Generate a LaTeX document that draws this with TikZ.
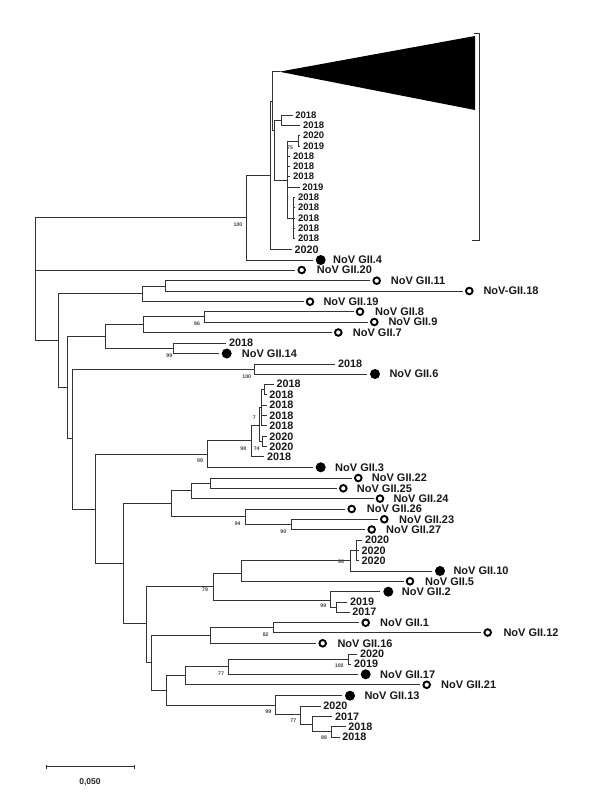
\documentclass[tikz,border=0pt]{standalone}
\usepackage{fontspec}
\setmainfont{Liberation Sans}
\newcommand\tkkids[4]{%
  \draw[brl] (#1 |- #2) -- (#1 |- #3);
  \foreach \k in {#4} {\draw[brl] (#1 |- \k) -- (\k);}%
}
\begin{document}
\begin{tikzpicture}[x=1pt,y=-1pt,
  brl/.style={draw=black!80, line width=0.9pt, line cap=rect},
  yr/.style={font=\bfseries\fontsize{10.8}{10.8}\selectfont, anchor=west, inner xsep=3pt, inner ysep=0pt, outer sep=0pt, text=black!90},
  yrs/.style={yr, font=\bfseries\fontsize{9.5}{9.5}\selectfont},
  lab/.style={font=\bfseries\fontsize{11}{11}\selectfont, anchor=west, inner sep=0pt, text=black!90},
  oc/.style={circle, draw=black, line width=1.9pt, minimum size=6.6pt, inner sep=0pt, outer sep=3.5pt},
  fc/.style={circle, fill=black, minimum size=10pt, inner sep=0pt, outer sep=3.5pt},
  bs/.style={font=\bfseries\fontsize{5.2}{5.2}\selectfont, inner sep=0pt, text=black!75},
]
\useasboundingbox (0,0) rectangle (595,800);

% ---------- internal node coordinates ----------
\coordinate (R) at (35,279);
\coordinate (A) at (246.7,217.7);
\coordinate (B) at (270,175);
\coordinate (C) at (272.3,101);
\coordinate (T) at (279.3,71.7);
\coordinate (T1) at (475,36);
\coordinate (T2) at (475,110);
\coordinate (D) at (274.5,130);
\coordinate (E) at (281.7,120);
\coordinate (F) at (287,180);
\coordinate (G) at (298.3,141);
\coordinate (H) at (293.3,218);
\coordinate (N1) at (58.3,340.7);
\coordinate (N2) at (142.7,293.3);
\coordinate (N3) at (165,286);
\coordinate (N4) at (67.7,387.3);
\coordinate (N5) at (105.7,336);
\coordinate (N7) at (143.3,324.3);
\coordinate (N9) at (204.3,316.7);
\coordinate (N8) at (173.3,348.3);
\coordinate (N6) at (72.7,438.3);
\coordinate (N10) at (254.3,369);
\coordinate (N11) at (95.7,509);
\coordinate (N12) at (207.3,454.3);
\coordinate (N14) at (251,440.8);
\coordinate (N15) at (259,425);
\coordinate (N16) at (261,407.5);
\coordinate (N18) at (264.3,389.3);
\coordinate (N17) at (262.7,441.3);
\coordinate (N13) at (123.3,563.3);
\coordinate (N19) at (171.7,503.3);
\coordinate (N21) at (191.7,490.8);
\coordinate (N23) at (210,483.3);
\coordinate (N22) at (245,516.7);
\coordinate (N25) at (291,524.4);
\coordinate (N20) at (146,623.3);
\coordinate (N26) at (213.3,586.7);
\coordinate (N28) at (241.7,573.3);
\coordinate (N31) at (350.7,560.5);
\coordinate (N32) at (356,550);
\coordinate (N29) at (330,600);
\coordinate (N30) at (336.7,607);
\coordinate (N27) at (151.7,662.5);
\coordinate (N33) at (210,635);
\coordinate (N35) at (273.3,627.7);
\coordinate (N34) at (166.7,690);
\coordinate (N36) at (185.7,675);
\coordinate (N38) at (228.3,666.8);
\coordinate (N39) at (348.3,659.2);
\coordinate (N37) at (275.7,705);
\coordinate (N40) at (300.7,714.3);
\coordinate (N41) at (312.7,724.2);
\coordinate (N42) at (331.7,731.7);

% ---------- collapsed clade and bracket ----------
\fill[black] (T) -- (T1) -- (T2) -- cycle;
\coordinate (K1) at (474,33);
\coordinate (K2) at (479.5,33);
\coordinate (K3) at (479.5,240);
\coordinate (K4) at (472,240);
\draw[brl, line cap=butt, line width=0.8pt] (K1) -- (K2) -- (K3) -- (K4);

% ---------- leaves: GII.4 clade ----------
\node[fc] (f4) at (320.7,260) {}; \node[lab] (l4) at (333,260) {NoV GII.4};
\node[yr] (y0) at (291.5,249.5) {2020};
\node[yrs] (s1) at (292.3,115) {2018};
\node[yrs] (s2) at (300,125) {2018};
\node[yrs] (s3) at (300,135.7) {2020};
\node[yrs] (s4) at (300,146) {2019};
\node[yrs] (s5) at (290,156) {2018};
\node[yrs] (s6) at (290,166.3) {2018};
\node[yrs] (s7) at (290,176.7) {2018};
\node[yrs] (s8) at (299.3,187.7) {2019};
\node[yrs] (s9) at (295,197.7) {2018};
\node[yrs] (s10) at (295,207.7) {2018};
\node[yrs] (s11) at (295,218) {2018};
\node[yrs] (s12) at (295,228.3) {2018};
\node[yrs] (s13) at (295,238.3) {2018};

% ---------- other leaves ----------
\node[oc] (c20) at (301.7,270) {}; \node[lab] (l20) at (316.7,270) {NoV GII.20};
\node[oc] (c11) at (376.7,280.7) {}; \node[lab] (l11) at (390.7,280.7) {NoV GII.11};
\node[oc] (c18) at (469.3,291) {}; \node[lab] (l18) at (483.3,291) {NoV-GII.18};
\node[oc] (c19) at (310,301.7) {}; \node[lab] (l19) at (323.3,301.7) {NoV GII.19};
\node[oc] (c8) at (360,311.7) {}; \node[lab] (l8) at (375,311.7) {NoV GII.8};
\node[oc] (c9) at (374.3,322) {}; \node[lab] (l9) at (388.3,322) {NoV GII.9};
\node[oc] (c7) at (338.3,332.5) {}; \node[lab] (l7) at (352.7,332.5) {NoV GII.7};
\node[yr] (y14) at (226,343) {2018};
\node[fc] (f14) at (226.7,353.5) {}; \node[lab] (l14) at (241.7,353.5) {NoV GII.14};
\node[yr] (y6) at (335,364) {2018};
\node[fc] (f6) at (375,374) {}; \node[lab] (l6) at (389.3,374) {NoV GII.6};
\node[yr] (y31) at (273.5,384) {2018};
\node[yr] (y32) at (266.3,394.7) {2018};
\node[yr] (y33) at (266.3,405) {2018};
\node[yr] (y34) at (266.3,415.7) {2018};
\node[yr] (y35) at (266.3,425.7) {2018};
\node[yr] (y36) at (266.3,436.3) {2020};
\node[yr] (y37) at (266.3,446.3) {2020};
\node[yr] (y38) at (264,456.7) {2018};
\node[fc] (f3) at (320.7,467.3) {}; \node[lab] (l3) at (335,467.3) {NoV GII.3};
\node[oc] (c22) at (358.3,478) {}; \node[lab] (l22) at (371.7,478) {NoV GII.22};
\node[oc] (c25) at (343.3,488.3) {}; \node[lab] (l25) at (356.7,488.3) {NoV GII.25};
\node[oc] (c24) at (380,498.6) {}; \node[lab] (l24) at (393.3,498.6) {NoV GII.24};
\node[oc] (c26) at (351.7,509) {}; \node[lab] (l26) at (366.7,509) {NoV GII.26};
\node[oc] (c23) at (384.3,519.3) {}; \node[lab] (l23) at (399,519.3) {NoV GII.23};
\node[oc] (c27) at (371.7,529.5) {}; \node[lab] (l27) at (386,529.5) {NoV GII.27};
\node[yr] (y41) at (362,540) {2020};
\node[yr] (y42) at (358.5,550.3) {2020};
\node[yr] (y43) at (358.5,560.7) {2020};
\node[fc] (f10) at (440,571) {}; \node[lab] (l10) at (453.3,571) {NoV GII.10};
\node[oc] (c5) at (410,581.3) {}; \node[lab] (l5) at (425,581.3) {NoV GII.5};
\node[fc] (f2) at (388.3,591.7) {}; \node[lab] (l2) at (401.7,591.7) {NoV GII.2};
\node[yr] (y44) at (347,602) {2019};
\node[yr] (y45) at (349.3,612.2) {2017};
\node[oc] (c1) at (365.7,622.7) {}; \node[lab] (l1) at (380,622.7) {NoV GII.1};
\node[oc] (c12) at (487.7,632.5) {}; \node[lab] (l12) at (503.3,632.5) {NoV GII.12};
\node[oc] (c16) at (322.7,643.3) {}; \node[lab] (l16) at (337.3,643.3) {NoV GII.16};
\node[yr] (y51) at (357,654) {2020};
\node[yr] (y52) at (351,664) {2019};
\node[fc] (f17) at (365.7,674.3) {}; \node[lab] (l17) at (380,674.3) {NoV GII.17};
\node[oc] (c21) at (426.7,684.8) {}; \node[lab] (l21) at (441,684.8) {NoV GII.21};
\node[fc] (f13) at (350,695.7) {}; \node[lab] (l13) at (364.3,695.7) {NoV GII.13};
\node[yr] (y53) at (320.3,706) {2020};
\node[yr] (y54) at (332,716.5) {2017};
\node[yr] (y55) at (345.3,726.7) {2018};
\node[yr] (y56) at (339.3,737) {2018};

% ---------- branches ----------
\tkkids{R}{A}{N1}{A,c20,N1}
\tkkids{A}{B}{f4}{B,f4}
\tkkids{B}{C}{y0}{C,y0}
\tkkids{C}{T}{D}{T,D}
\tkkids{D}{E}{F}{E,F}
\tkkids{E}{s1}{s2}{s1,s2}
\tkkids{F}{G}{H}{G,s5,s6,s7,s8,H}
\tkkids{G}{s3}{s4}{s3,s4}
\tkkids{H}{s9}{s13}{s9,s10,s11,s12,s13}
\tkkids{N1}{N2}{N4}{N2,N4}
\tkkids{N2}{N3}{c19}{N3,c19}
\tkkids{N3}{c11}{c18}{c11,c18}
\tkkids{N4}{N5}{N6}{N5,N6}
\tkkids{N5}{N7}{N8}{N7,N8}
\tkkids{N7}{N9}{c7}{N9,c7}
\tkkids{N9}{c8}{c9}{c8,c9}
\tkkids{N8}{y14}{f14}{y14,f14}
\tkkids{N6}{N10}{N11}{N10,N11}
\tkkids{N10}{y6}{f6}{y6,f6}
\tkkids{N11}{N12}{N13}{N12,N13}
\tkkids{N12}{N14}{f3}{N14,f3}
\tkkids{N14}{N15}{y38}{N15,y38}
\tkkids{N15}{N16}{N17}{N16,N17}
\tkkids{N16}{N18}{y35}{N18,y33,y34,y35}
\tkkids{N18}{y31}{y32}{y31,y32}
\tkkids{N17}{y36}{y37}{y36,y37}
\tkkids{N13}{N19}{N20}{N19,N20}
\tkkids{N19}{N21}{N22}{N21,N22}
\tkkids{N21}{N23}{c24}{N23,c24}
\tkkids{N23}{c22}{c25}{c22,c25}
\tkkids{N22}{c26}{N25}{c26,N25}
\tkkids{N25}{c23}{c27}{c23,c27}
\tkkids{N20}{N26}{N27}{N26,N27}
\tkkids{N26}{N28}{N29}{N28,N29}
\tkkids{N28}{N31}{c5}{N31,c5}
\tkkids{N31}{N32}{f10}{N32,f10}
\tkkids{N32}{y41}{y43}{y41,y42,y43}
\tkkids{N29}{f2}{N30}{f2,N30}
\tkkids{N30}{y44}{y45}{y44,y45}
\tkkids{N27}{N33}{N34}{N33,N34}
\tkkids{N33}{N35}{c16}{N35,c16}
\tkkids{N35}{c1}{c12}{c1,c12}
\tkkids{N34}{N36}{N37}{N36,N37}
\tkkids{N36}{N38}{c21}{N38,c21}
\tkkids{N38}{N39}{f17}{N39,f17}
\tkkids{N39}{y51}{y52}{y51,y52}
\tkkids{N37}{f13}{N40}{f13,N40}
\tkkids{N40}{y53}{N41}{y53,N41}
\tkkids{N41}{y54}{N42}{y54,N42}
\tkkids{N42}{y55}{y56}{y55,y56}

% ---------- bootstrap values ----------
\node[bs] (b1) at (238,224.3) {100};
\node[bs] (b2) at (290,147.7) {75};
\node[bs] (b3) at (197,324) {86};
\node[bs] (b4) at (169.3,356) {99};
\node[bs] (b5) at (246.7,376.7) {100};
\node[bs] (b6) at (200,461) {99};
\node[bs] (b7) at (243.3,449) {98};
\node[bs] (b8) at (256.7,449) {74};
\node[bs] (b9) at (254.3,417.3) {7};
\node[bs] (b10) at (237.7,523.3) {94};
\node[bs] (b11) at (283.3,531.7) {90};
\node[bs] (b12) at (205,590) {79};
\node[bs] (b13) at (341,561.7) {98};
\node[bs] (b14) at (323.3,606) {99};
\node[bs] (b15) at (265.7,634.3) {82};
\node[bs] (b16) at (221,673.3) {77};
\node[bs] (b17) at (339.3,666) {100};
\node[bs] (b18) at (268.3,711.7) {99};
\node[bs] (b19) at (293.3,721) {77};
\node[bs] (b20) at (324,737.7) {88};

% ---------- scale bar ----------
\coordinate (sb1) at (46.7,766.7);
\coordinate (sb2) at (134.3,766.7);
\draw[brl, line cap=butt, line width=0.8pt] (sb1) -- (sb2);
\draw[brl, line cap=butt, line width=0.8pt] ([yshift=-2pt]sb1) -- ([yshift=2pt]sb1);
\draw[brl, line cap=butt, line width=0.8pt] ([yshift=-2pt]sb2) -- ([yshift=2pt]sb2);
\node[font=\bfseries\fontsize{8.5}{8.5}\selectfont, inner sep=0pt, text=black!85] (sbl) at (90,781.7) {0,050};
\end{tikzpicture}
\end{document}
